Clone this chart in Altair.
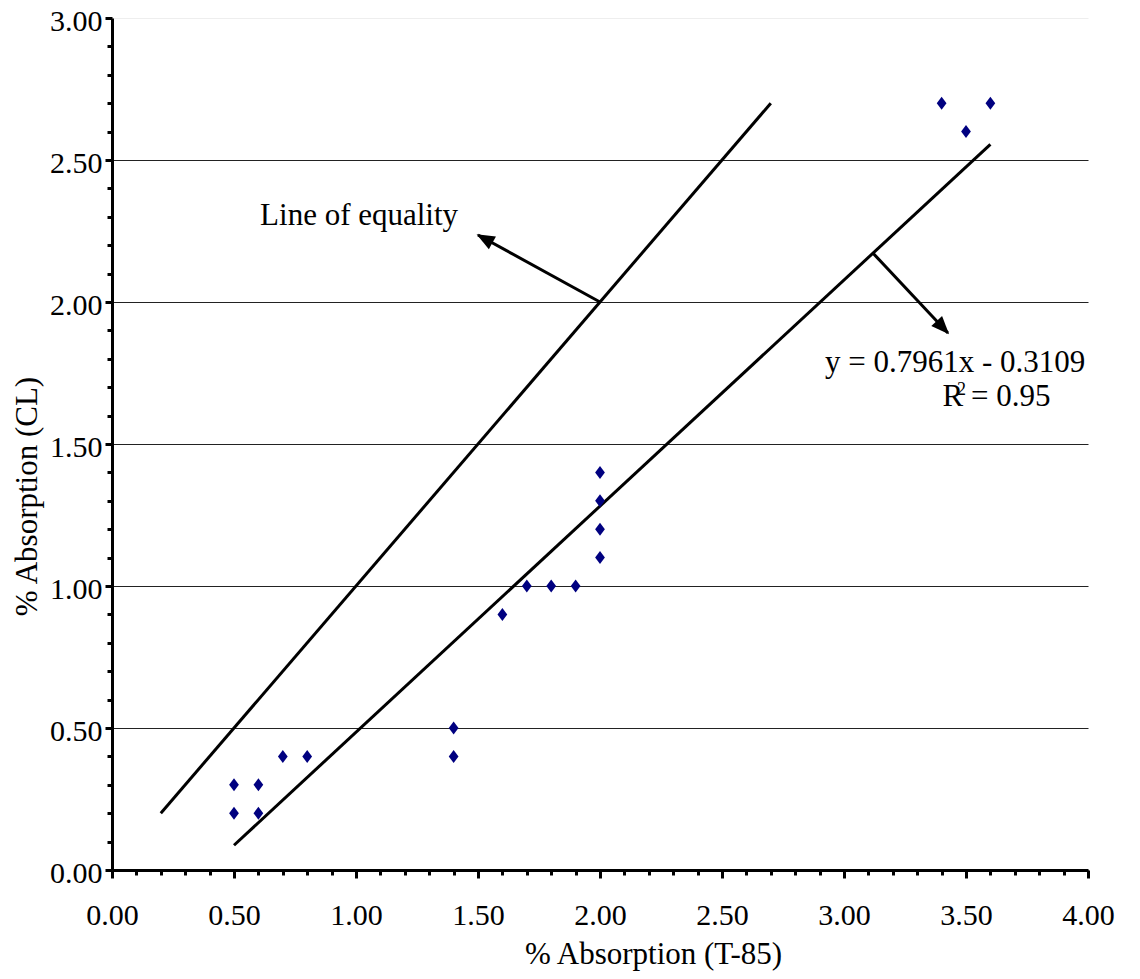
import math
import altair as alt
import pandas as pd

# ---- data ----
x_t85 = [0.5, 0.5, 0.6, 0.6, 0.7, 0.8, 1.4, 1.4, 1.6, 1.7, 1.8, 1.9, 2.0, 2.0, 2.0, 2.0, 3.4, 3.5, 3.6]
y_cl = [0.3, 0.2, 0.3, 0.2, 0.4, 0.4, 0.5, 0.4, 0.9, 1.0, 1.0, 1.0, 1.4, 1.3, 1.2, 1.1, 2.7, 2.6, 2.7]

equality_x = [0.2, 2.7]
fit_slope = 0.7961
fit_intercept = -0.3109
fit_x = [0.5, 3.6]

arrow_start_x = [2.0, 3.119]
arrow_start_y = [2.0, 2.172]
arrow_end_x = [1.5, 3.426]
arrow_end_y = [2.236, 1.891]

note_text = ["Line of equality", "y = 0.7961x - 0.3109", "R = 0.95"]
note_x = [0.607, 2.922, 3.404]
note_y = [2.271, 1.754, 1.634]
sup_text = ["2"]
sup_x = [3.463]
sup_y = [1.673]

x_ticks = [round(i * 0.1, 1) for i in range(41)]
y_ticks = [round(i * 0.1, 1) for i in range(31)]

# ---- layout ----
W, H = 976, 852
XMAX, YMAX = 4.0, 3.0
FONT = "Liberation Serif"

xs = alt.Scale(domain=[0, XMAX], nice=False, zero=False)
ys = alt.Scale(domain=[0, YMAX], nice=False, zero=False)

is_major = "abs(datum.value*2 - round(datum.value*2)) < 0.001"

x_axis = alt.Axis(
    values=x_ticks,
    labelExpr=f"({is_major}) ? format(datum.value, '.2f') : ''",
    tickSize={"condition": {"test": is_major, "value": 8}, "value": 5},
    tickWidth=3, tickColor="black",
    domainColor="black", domainWidth=3,
    grid=False,
    labelFont=FONT, labelFontSize=30, labelColor="black",
    labelPadding=22, labelFlush=False, labelOverlap=False,
    title="% Absorption (T-85)", titleFont=FONT, titleFontSize=31,
    titleFontWeight="normal", titleColor="black",
    titleX=541, titleY=93, titleBaseline="alphabetic",
    titleAlign="center",
)
y_axis = alt.Axis(
    values=y_ticks,
    labelExpr=f"({is_major}) ? format(datum.value, '.2f') : ''",
    tickSize={"condition": {"test": is_major, "value": 7}, "value": 5},
    tickWidth=3, tickColor="black",
    domainColor="black", domainWidth=3,
    grid=True,
    gridColor={"condition": {"test": "datum.value >= 2.99", "value": "#eeeeee"}, "value": "#222222"},
    gridOpacity={"condition": {"test": is_major, "value": 1}, "value": 0},
    gridWidth=1,
    labelFont=FONT, labelFontSize=30, labelColor="black",
    labelPadding=3, labelOffset=3, labelFlush=False, labelOverlap=False,
    title="% Absorption (CL)", titleFont=FONT, titleFontSize=31,
    titleFontWeight="normal", titleColor="black",
    titleAngle=270, titleX=-76, titleY=478, titleBaseline="alphabetic",
    titleAlign="center",
)


def X(field):
    return alt.X(f"{field}:Q", scale=xs, axis=x_axis)


def Y(field):
    return alt.Y(f"{field}:Q", scale=ys, axis=y_axis)


pts = pd.DataFrame({"x": x_t85, "y": y_cl})
diamond = "M0,-1L0.75,0L0,1L-0.75,0Z"
points = alt.Chart(pts).mark_point(
    shape=diamond, filled=True, size=169, color="#000080", opacity=1
).encode(x=X("x"), y=Y("y"))

lines_df = pd.DataFrame({
    "x": [equality_x[0], fit_x[0]],
    "y": [equality_x[0], fit_slope * fit_x[0] + fit_intercept],
    "x2": [equality_x[1], fit_x[1]],
    "y2": [equality_x[1], fit_slope * fit_x[1] + fit_intercept],
})
lines = alt.Chart(lines_df).mark_rule(color="black", strokeWidth=3).encode(
    x=X("x"), y=Y("y"), x2="x2:Q", y2="y2:Q"
)

px_x = W / XMAX
px_y = H / YMAX
angles = []
for sx, sy, ex, ey in zip(arrow_start_x, arrow_start_y, arrow_end_x, arrow_end_y):
    dx = (ex - sx) * px_x
    dy = -(ey - sy) * px_y
    a = math.degrees(math.atan2(dx, -dy)) % 360
    angles.append(a)

arr_df = pd.DataFrame({
    "x": arrow_start_x, "y": arrow_start_y,
    "x2": arrow_end_x, "y2": arrow_end_y, "angle": angles,
})
shafts = alt.Chart(arr_df).mark_rule(color="black", strokeWidth=3).encode(
    x=X("x"), y=Y("y"), x2="x2:Q", y2="y2:Q"
)
head_path = "M0,-0.2L0.9,2L-0.9,2Z"
heads = alt.Chart(arr_df).mark_point(
    shape=head_path, filled=True, size=270, color="black", opacity=1
).encode(x=X("x2"), y=Y("y2"), angle=alt.Angle("angle:Q", scale=None))

notes_df = pd.DataFrame({"x": note_x, "y": note_y, "t": note_text})
notes = alt.Chart(notes_df).mark_text(
    font=FONT, fontSize=31, align="left", baseline="alphabetic", color="black"
).encode(x=X("x"), y=Y("y"), text="t:N")

sup_df = pd.DataFrame({"x": sup_x, "y": sup_y, "t": sup_text})
sup = alt.Chart(sup_df).mark_text(
    font=FONT, fontSize=18, align="left", baseline="alphabetic", color="black"
).encode(x=X("x"), y=Y("y"), text="t:N")

chart = alt.layer(lines, shafts, heads, points, notes, sup).properties(
    width=W, height=H,
    autosize=alt.AutoSizeParams(type="none"),
    padding={"left": 104, "top": 10, "right": 44, "bottom": 101},
    background="white",
).configure_view(stroke=None)

chart.save("out.html", embed_options={"renderer": "svg", "actions": False})
